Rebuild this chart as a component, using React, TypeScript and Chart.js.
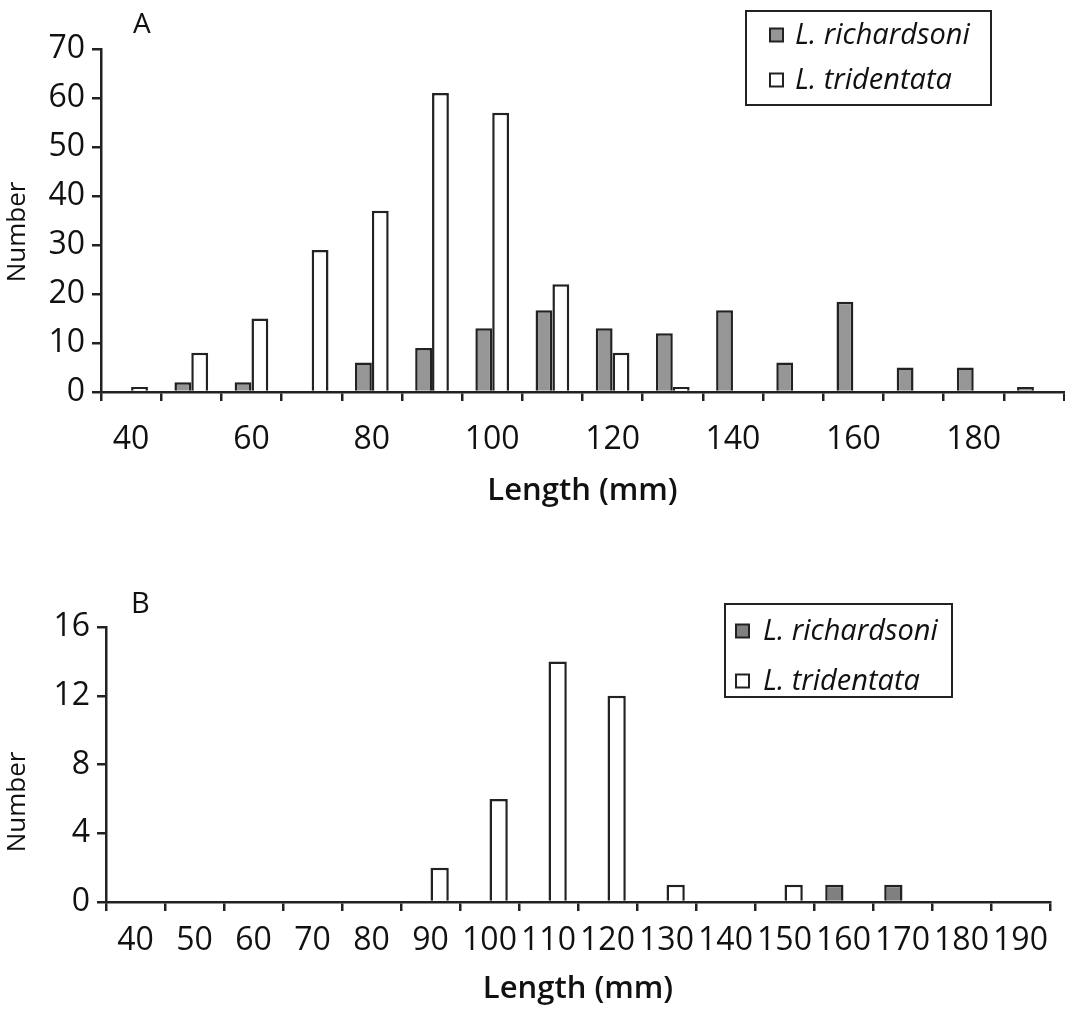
import React, { useEffect, useRef } from 'react';
import { Chart, registerables } from 'chart.js';

Chart.register(...registerables);

// ---- data ----
const lengthBins = ['40', '50', '60', '70', '80', '90', '100', '110', '120', '130', '140', '150', '160', '170', '180', '190'];
const seriesNames = ['L. richardsoni', 'L. tridentata'];

const richardsoniA = [0, 2, 2, 0, 6, 9, 13, 16.7, 13, 12, 16.7, 6, 18.4, 5, 5, 1];
const tridentataA = [1, 8, 15, 29, 37, 61, 57, 22, 8, 1, 0, 0, 0, 0, 0, 0];
const yTicksA = [0, 10, 20, 30, 40, 50, 60, 70];

const richardsoniB = [0, 0, 0, 0, 0, 0, 0, 0, 0, 0, 0, 0, 1, 1, 0, 0];
const tridentataB = [0, 0, 0, 0, 0, 2, 6, 14, 12, 1, 0, 1, 0, 0, 0, 0];
const yTicksB = [0, 4, 8, 12, 16];

const panelLetters = ['A', 'B'];
const xTitle = 'Length (mm)';
const yTitle = 'Number';

// ---- styles ----
const FONT = '"Open Sans", "DejaVu Sans", sans-serif';
const INK = '#111111';
const AXIS = '#222222';
const WHITE = '#ffffff';

const textPlugin = {
  id: 'textPlugin',
  afterDraw(chart: any, _args: any, opts: any) {
    const { ctx } = chart;
    (opts.items || []).forEach((it: any) => {
      ctx.save();
      ctx.translate(it.x, it.y);
      if (it.rotation) ctx.rotate(it.rotation);
      ctx.font = it.font;
      ctx.fillStyle = INK;
      ctx.textAlign = it.align || 'left';
      ctx.textBaseline = it.baseline || 'alphabetic';
      ctx.fillText(it.text, 0, 0);
      ctx.restore();
    });
  },
};

const boxLegend = {
  id: 'boxLegend',
  afterDraw(chart: any, _args: any, o: any) {
    const { ctx } = chart;
    ctx.save();
    ctx.fillStyle = '#ffffff';
    ctx.fillRect(o.x, o.y, o.w, o.h);
    ctx.lineWidth = 2;
    ctx.strokeStyle = AXIS;
    ctx.strokeRect(o.x, o.y, o.w, o.h);
    chart.data.datasets.forEach((ds: any, i: number) => {
      const cy = o.rows[i];
      const s = o.marker;
      ctx.fillStyle = ds.backgroundColor;
      ctx.fillRect(o.markerX, cy - s / 2, s, s);
      ctx.lineWidth = 2;
      ctx.strokeStyle = AXIS;
      ctx.strokeRect(o.markerX, cy - s / 2, s, s);
      ctx.font = `italic 29px ${FONT}`;
      ctx.fillStyle = INK;
      ctx.textAlign = 'left';
      ctx.textBaseline = 'alphabetic';
      ctx.fillText(ds.label, o.textX, cy + 9);
    });
    ctx.restore();
  },
};

function makeConfig(p: any) {
  return {
    type: 'bar',
    data: {
      labels: lengthBins,
      datasets: [
        {
          label: seriesNames[0],
          data: p.rich,
          backgroundColor: p.gray,
          borderColor: AXIS,
          borderWidth: 2.5,
          categoryPercentage: p.catPct,
          barPercentage: 1,
        },
        {
          label: seriesNames[1],
          data: p.tri,
          backgroundColor: WHITE,
          borderColor: AXIS,
          borderWidth: 2.5,
          categoryPercentage: p.catPct,
          barPercentage: 1,
        },
      ],
    },
    plugins: [textPlugin, boxLegend],
    options: {
      animation: false,
      responsive: false,
      devicePixelRatio: 1,
      layout: { autoPadding: false, padding: { top: p.top, right: p.right, bottom: 0, left: 0 } },
      plugins: {
        legend: { display: false },
        tooltip: { enabled: false },
        title: { display: false },
        textPlugin: { items: p.texts },
        boxLegend: p.legend,
      },
      scales: {
        x: {
          type: 'category',
          offset: true,
          grid: {
            display: true,
            offset: true,
            drawOnChartArea: false,
            drawTicks: true,
            tickLength: 9,
            color: AXIS,
            lineWidth: 2.5,
          },
          border: { display: true, color: AXIS, width: 2.5 },
          ticks: {
            autoSkip: false,
            maxRotation: 0,
            minRotation: 0,
            padding: p.xPad,
            color: INK,
            font: { family: FONT, size: 32 },
            callback: (_v: any, i: number) => (i % p.every === 0 ? lengthBins[i] : ''),
          },
          title: {
            display: true,
            text: xTitle,
            color: INK,
            font: { family: FONT, size: 31, weight: 600 },
            padding: { top: 0, bottom: p.titlePad },
          },
          afterFit: (s: any) => {
            s.height = p.xHeight;
          },
        },
        y: {
          min: 0,
          max: p.max,
          afterBuildTicks: (s: any) => {
            s.ticks = p.yTicks.map((value: number) => ({ value }));
          },
          grid: {
            display: true,
            drawOnChartArea: false,
            drawTicks: true,
            tickLength: 9,
            color: AXIS,
            lineWidth: 2.5,
          },
          border: { display: true, color: AXIS, width: 2.5 },
          ticks: { padding: 7, color: INK, font: { family: FONT, size: 32 } },
          afterFit: (s: any) => {
            s.width = p.yWidth;
          },
        },
      },
    },
  };
}

export default function App() {
  const refA = useRef<HTMLCanvasElement>(null);
  const refB = useRef<HTMLCanvasElement>(null);

  useEffect(() => {
    const chartA = new Chart(
      refA.current as HTMLCanvasElement,
      makeConfig({
        rich: richardsoniA,
        tri: tridentataA,
        gray: '#969696',
        yTicks: yTicksA,
        max: 70,
        catPct: 0.56,
        top: 49,
        right: 1,
        yWidth: 101,
        xHeight: 148,
        xPad: 20,
        titlePad: 30,
        every: 2,
        texts: [
          { text: panelLetters[0], x: 133, y: 33, font: `28px ${FONT}` },
          { text: yTitle, x: 18, y: 232, font: `26px ${FONT}`, rotation: -Math.PI / 2, align: 'center', baseline: 'middle' },
        ],
        legend: { x: 746, y: 11, w: 245, h: 94, rows: [35, 80], marker: 13, markerX: 770, textX: 795 },
      }) as any
    );
    const chartB = new Chart(
      refB.current as HTMLCanvasElement,
      makeConfig({
        rich: richardsoniB,
        tri: tridentataB,
        gray: '#808080',
        yTicks: yTicksB,
        max: 16,
        catPct: 0.62,
        top: 67,
        right: 15,
        yWidth: 106,
        xHeight: 111,
        xPad: 11,
        titlePad: 5,
        every: 1,
        texts: [
          { text: panelLetters[1], x: 131, y: 53, font: `29px ${FONT}` },
          { text: yTitle, x: 18, y: 242, font: `26px ${FONT}`, rotation: -Math.PI / 2, align: 'center', baseline: 'middle' },
        ],
        legend: { x: 725, y: 44, w: 227, h: 93, rows: [71, 121], marker: 13, markerX: 736, textX: 763 },
      }) as any
    );
    return () => {
      chartA.destroy();
      chartB.destroy();
    };
  }, []);

  return (
    <div style={{ position: 'absolute', left: 0, top: 0, width: 1065, height: 1013, background: '#fff' }}>
      <canvas ref={refA} width={1065} height={540} style={{ position: 'absolute', left: 0, top: 0 }} />
      <canvas ref={refB} width={1065} height={453} style={{ position: 'absolute', left: 0, top: 560 }} />
    </div>
  );
}
